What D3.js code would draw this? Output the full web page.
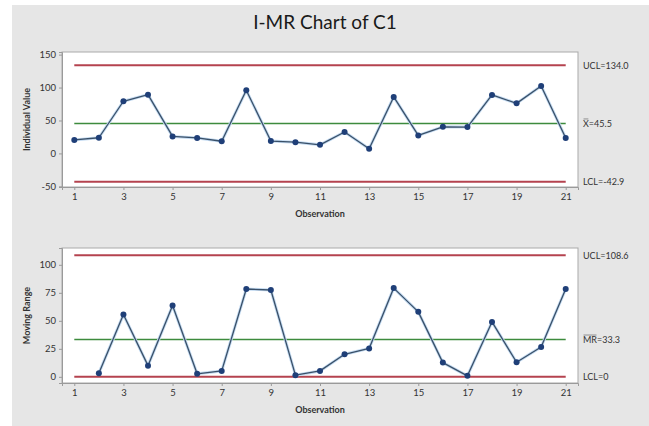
<!DOCTYPE html>
<html>
<head>
<meta charset="utf-8">
<script src="https://cdn.jsdelivr.net/npm/d3@7/dist/d3.min.js"></script>
<style>
  html, body { margin: 0; padding: 0; background: #ffffff; }
  svg { display: block; }
  text { font-family: "Lato", "Open Sans", sans-serif; fill: #222; }
</style>
</head>
<body>
<svg id="chart" width="649" height="426"></svg>
<script>
// Observations 1..21
const observations = d3.range(1, 22);
// Individual values
const individualValues = [20.5, 23.8, 79.2, 89.2, 25.8, 23.5, 18.5, 95.8, 18.8, 17.0, 13.0,
                          32.5, 7.2, 85.8, 27.3, 40.4, 40.0, 88.8, 76.0, 102.4, 23.5];
// Moving ranges (first observation has none)
const movingRangeObs = d3.range(2, 22);
const movingRanges = [3.3, 55.6, 10.0, 63.6, 2.7, 5.3, 78.4, 77.5, 1.5, 5.3,
                      20.1, 25.4, 79.2, 58.0, 12.7, 0.9, 49.0, 13.0, 26.6, 78.4];
// Control limits and centre lines
const iLimits = { ucl: 134.0, center: 45.5, lcl: -42.9 };
const mrLimits = { ucl: 108.6, center: 33.3, lcl: 0 };
// Limit labels: [symbol drawn with a bar above it, rest of the text]
const iLabels = [["", "UCL=134.0"], ["X", "=45.5"], ["", "LCL=-42.9"]];
const mrLabels = [["", "UCL=108.6"], ["MR", "=33.3"], ["", "LCL=0"]];
// Axis ticks
const xTicks = [1, 3, 5, 7, 9, 11, 13, 15, 17, 19, 21];
const iTicks = [-50, 0, 50, 100, 150];
const mrTicks = [0, 25, 50, 75, 100];

const svg = d3.select("#chart");

// Grey frame behind both panels
svg.append("rect").attr("x", 12).attr("y", 5).attr("width", 637).attr("height", 421)
  .attr("fill", "#e6e6e6");

svg.append("text").attr("x", 325).attr("y", 29).attr("text-anchor", "middle")
  .style("font-size", "19px").style("fill", "#1a1a1a").text("I-MR Chart of C1");

const x = d3.scaleLinear().domain([0.5, 21.5]).range([62, 578]);
const plain = d => String(d);

function panel(cfg) {
  const y = d3.scaleLinear().domain(cfg.domain).range([cfg.bottom, cfg.top]);
  const g = svg.append("g");

  g.append("rect").attr("x", 62).attr("y", cfg.top).attr("width", 516)
    .attr("height", cfg.bottom - cfg.top).attr("fill", "#ffffff")
    .attr("stroke", "#a9a9a9").attr("stroke-width", 1);

  // Y axis
  const yAxis = g.append("g").attr("transform", "translate(62,0)")
    .call(d3.axisLeft(y).tickValues(cfg.yTicks).tickFormat(plain).tickSize(3).tickPadding(3));
  yAxis.select(".domain").attr("stroke", "#9a9a9a");
  yAxis.selectAll(".tick line").attr("stroke", "#9a9a9a");
  yAxis.selectAll(".tick text").style("font-size", "9.5px").style("fill", "#333")
    .style("font-family", "Lato, sans-serif");

  // X axis
  const xAxis = g.append("g").attr("transform", `translate(0,${cfg.bottom})`)
    .call(d3.axisBottom(x).tickValues(xTicks).tickFormat(plain).tickSize(3).tickPadding(3));
  xAxis.select(".domain").attr("stroke", "#9a9a9a");
  xAxis.selectAll(".tick line").attr("stroke", "#9a9a9a");
  xAxis.selectAll(".tick text").style("font-size", "9.5px").style("fill", "#333")
    .style("font-family", "Lato, sans-serif");

  g.append("text").attr("x", 320).attr("y", cfg.bottom + 30).attr("text-anchor", "middle")
    .style("font-size", "9px").style("font-weight", "bold").style("fill", "#333")
    .text("Observation");

  g.append("text").attr("transform", `translate(30,${(cfg.top + cfg.bottom) / 2}) rotate(-90)`)
    .attr("text-anchor", "middle").style("font-size", "9px").style("font-weight", "bold")
    .style("fill", "#333").text(cfg.yTitle);

  // Control limits and centre line
  const lines = [
    { v: cfg.limits.ucl, c: "#b5434f", w: 2 },
    { v: cfg.limits.center, c: "#3d8b3d", w: 1.6 },
    { v: cfg.limits.lcl, c: "#b5434f", w: 2 }
  ];
  g.selectAll("line.limit").data(lines).join("line").attr("class", "limit")
    .attr("x1", x(1)).attr("x2", x(21))
    .attr("y1", d => y(d.v)).attr("y2", d => y(d.v))
    .attr("stroke", d => d.c).attr("stroke-width", d => d.w);

  lines.forEach((d, i) => {
    const [sym, rest] = cfg.labels[i];
    const t = g.append("text").attr("x", 583).attr("y", y(d.v) + 3.5)
      .style("font-size", "9px").style("fill", "#333");
    if (sym) {
      const s = t.append("tspan").text(sym);
      t.append("tspan").text(rest);
      const w = s.node().getComputedTextLength();
      g.append("line").attr("x1", 583.5).attr("x2", 583 + w - 0.5)
        .attr("y1", y(d.v) - 4.5).attr("y2", y(d.v) - 4.5)
        .attr("stroke", "#555").attr("stroke-width", 0.6);
    } else {
      t.text(rest);
    }
  });

  // Data series
  const pts = cfg.obs.map((o, i) => [o, cfg.values[i]]);
  const line = d3.line().x(d => x(d[0])).y(d => y(d[1]));
  g.append("path").attr("d", line(pts)).attr("fill", "none")
    .attr("stroke", "#c4dbf2").attr("stroke-width", 3).attr("stroke-linejoin", "round");
  g.append("path").attr("d", line(pts)).attr("fill", "none")
    .attr("stroke", "#3a5068").attr("stroke-width", 1.3).attr("stroke-linejoin", "round");
  g.selectAll("circle").data(pts).join("circle")
    .attr("cx", d => x(d[0])).attr("cy", d => y(d[1])).attr("r", 3)
    .attr("fill", "#1f3f78");
}

panel({
  top: 52, bottom: 187, domain: [-51, 154], yTicks: iTicks,
  yTitle: "Individual Value", limits: iLimits, labels: iLabels,
  obs: observations, values: individualValues
});

panel({
  top: 248, bottom: 383, domain: [-5.5, 115], yTicks: mrTicks,
  yTitle: "Moving Range", limits: mrLimits, labels: mrLabels,
  obs: movingRangeObs, values: movingRanges
});
</script>
</body>
</html>
